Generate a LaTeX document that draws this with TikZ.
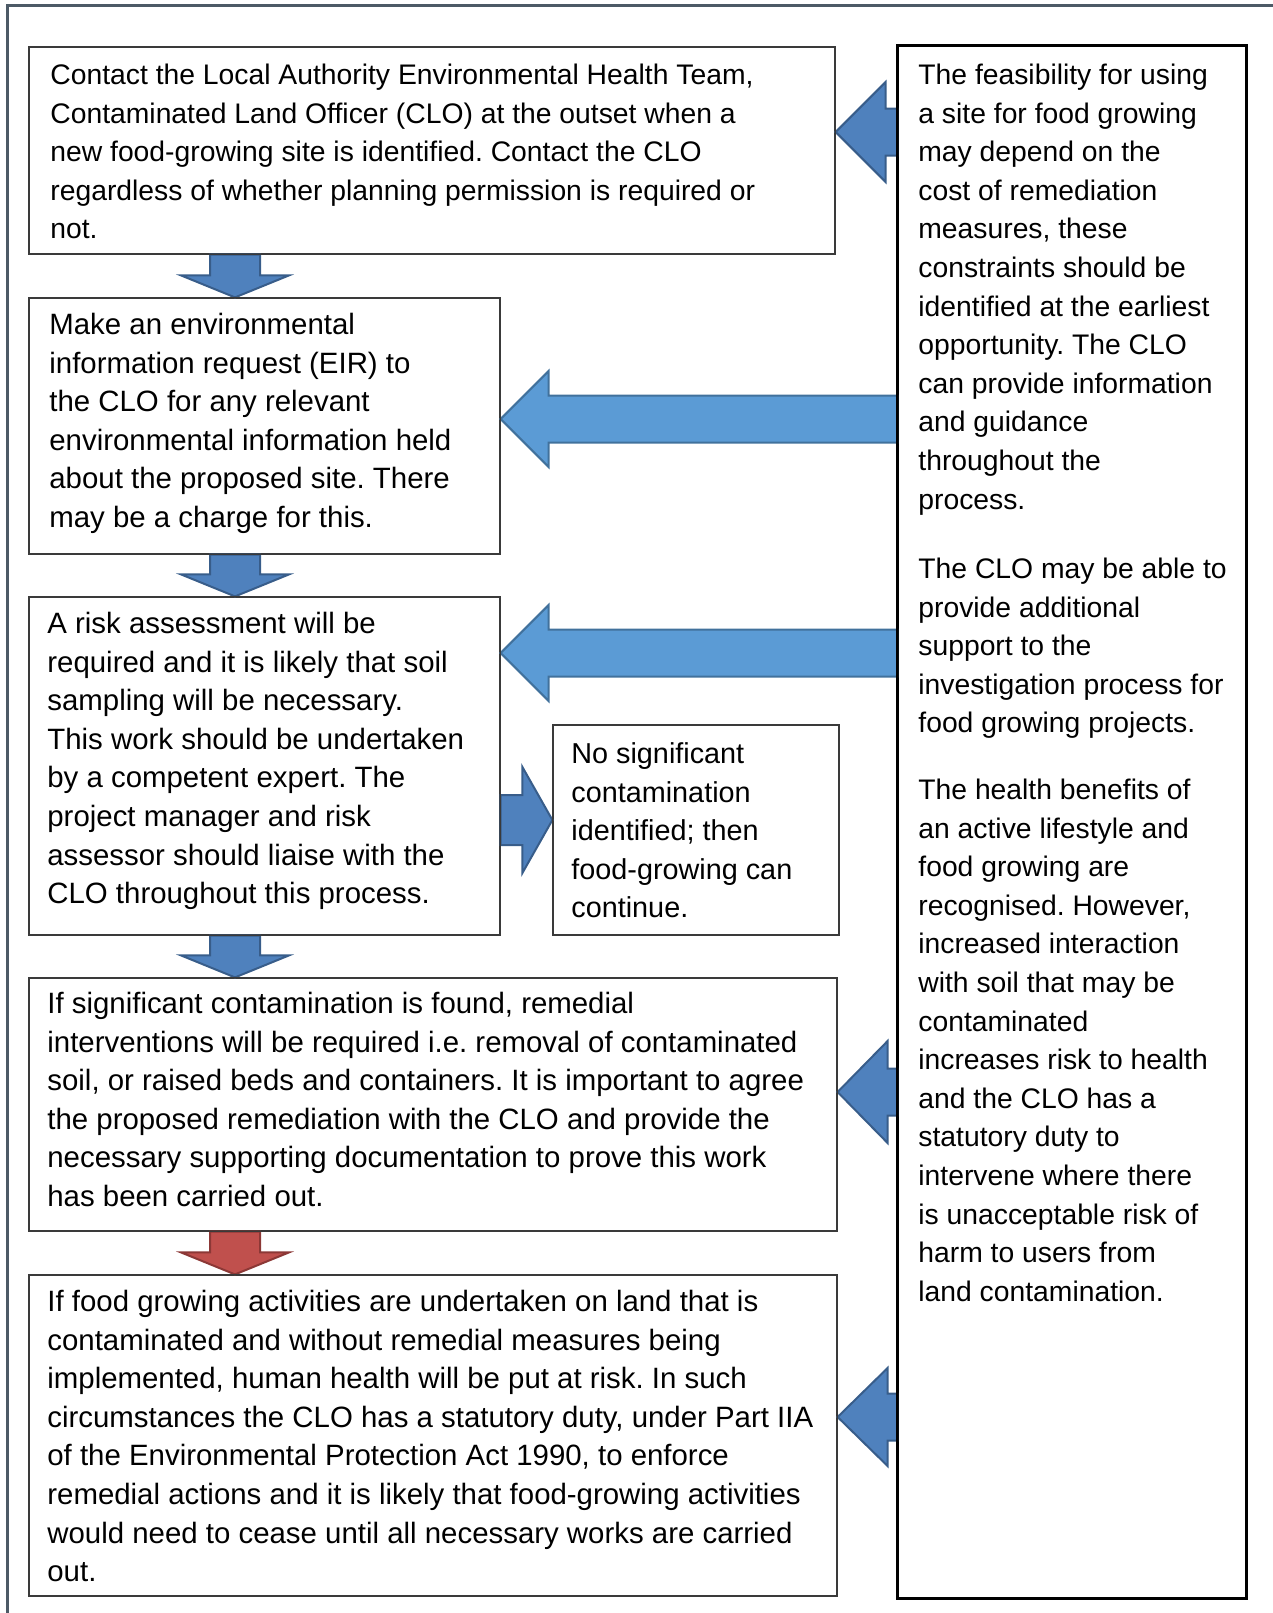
\documentclass[tikz,border=0pt]{standalone}
\usepackage{fontspec}
\setmainfont{Liberation Sans}
\usetikzlibrary{fit,calc}
\frenchspacing
\definecolor{dkfill}{HTML}{4F81BD}
\definecolor{dkline}{HTML}{385D8A}
\definecolor{ltfill}{HTML}{5B9BD5}
\definecolor{ltline}{HTML}{41719C}
\definecolor{rdfill}{HTML}{C0504D}
\definecolor{rdline}{HTML}{8C3836}
\definecolor{framec}{HTML}{4D5A66}
\definecolor{boxc}{HTML}{3A3A3A}
\newcommand\dblock[3]{\filldraw[#1] let \p1=(#2), \p2=(#3) in
  (\x1-12.5pt,\y1) -- (\x1+12.5pt,\y1) -- (\x1+12.5pt,\y2+11pt) -- (\x1+27pt,\y2+11pt)
  -- (\x1,\y2) -- (\x1-27pt,\y2+11pt) -- (\x1-12.5pt,\y2+11pt) -- cycle;}
\newcommand\lblock[6]{\filldraw[#1] let \p1=(#2), \p2=(#3) in
  (\x1,\y2+#4) -- (\x2+#6,\y2+#4) -- (\x2+#6,\y2+#5) -- (\x2,\y2)
  -- (\x2+#6,\y2-#5) -- (\x2+#6,\y2-#4) -- (\x1,\y2-#4) -- cycle;}
\newcommand\rblock[6]{\filldraw[#1] let \p1=(#2), \p2=(#3) in
  (\x1,\y2+#4) -- (\x2-#6,\y2+#4) -- (\x2-#6,\y2+#5) -- (\x2,\y2)
  -- (\x2-#6,\y2-#5) -- (\x2-#6,\y2-#4) -- (\x1,\y2-#4) -- cycle;}
\begin{document}
\begin{tikzpicture}[x=0.5pt,y=-0.5pt,
  box/.style={draw=boxc, line width=0.6pt, inner sep=0pt},
  sidebox/.style={draw=black, line width=0.9pt, inner sep=0pt},
  txt/.style={anchor=north west, inner sep=0pt, align=left, font=\fontsize{14.15pt}{19.3pt}\selectfont},
  txtw/.style={txt, font=\fontsize{14.7pt}{19.3pt}\selectfont},
  txtn/.style={txt, font=\fontsize{14.4pt}{19.3pt}\selectfont},
  darr/.style={fill=dkfill, draw=dkline, line width=1pt, line join=miter},
  larr/.style={fill=ltfill, draw=ltline, line width=1pt, line join=miter},
  rarr/.style={fill=rdfill, draw=rdline, line width=1pt, line join=miter}]
\useasboundingbox (0,0) rectangle (1273,1613);
\draw[framec, line width=1.5pt] (7,1620) -- (7,5) -- (1280,5);

% boxes (positions)
\path node[box, fit={(29,47) (835,254)}] (b1) {};
\path node[box, fit={(29,298) (500,554)}] (b2) {};
\path node[box, fit={(29,597) (500,935)}] (b3) {};
\path node[box, fit={(553,725) (839,935)}] (ns) {};
\path node[box, fit={(29,978) (837,1231)}] (b4) {};
\path node[box, fit={(29,1275) (837,1596)}] (b5) {};
\path node[sidebox, fit={(898,46) (1246,1598)}] (rb) {};

% arrows
\coordinate (ax) at (235,0);
\coordinate (y1) at (0,132);
\coordinate (y2) at (0,419);
\coordinate (y3) at (0,653);
\coordinate (yr) at (0,820);
\coordinate (y4) at (0,1092);
\coordinate (y5) at (0,1417);
\dblock{darr}{ax |- b1.south}{ax |- b2.north}
\dblock{darr}{ax |- b2.south}{ax |- b3.north}
\dblock{darr}{ax |- b3.south}{ax |- b4.north}
\dblock{rarr}{ax |- b4.south}{ax |- b5.north}
\lblock{darr}{rb.west |- y1}{b1.east |- y1}{11.75pt}{25pt}{25pt}
\lblock{larr}{rb.west |- y2}{b2.east |- y2}{11.75pt}{24pt}{24pt}
\lblock{larr}{rb.west |- y3}{b3.east |- y3}{11.75pt}{24pt}{24pt}
\lblock{darr}{rb.west |- y4}{b4.east |- y4}{11.75pt}{25.5pt}{25pt}
\lblock{darr}{rb.west |- y5}{b5.east |- y5}{11.75pt}{24.5pt}{25pt}
\rblock{darr}{b3.east |- yr}{ns.west |- yr}{12.5pt}{26.5pt}{15pt}

% redraw box borders on top
\draw[boxc, line width=0.6pt] (b1.south west) rectangle (b1.north east);
\draw[boxc, line width=0.6pt] (b2.south west) rectangle (b2.north east);
\draw[boxc, line width=0.6pt] (b3.south west) rectangle (b3.north east);
\draw[boxc, line width=0.6pt] (ns.south west) rectangle (ns.north east);
\draw[boxc, line width=0.6pt] (b4.south west) rectangle (b4.north east);
\draw[boxc, line width=0.6pt] (b5.south west) rectangle (b5.north east);
\draw[black, line width=0.9pt] (rb.south west) rectangle (rb.north east);

% texts
\node[txt] (t1) at (50,57) {\strut Contact the Local Authority Environmental Health Team,\\
Contaminated Land Officer (CLO) at the outset when a\\
new food-growing site is identified. Contact the CLO\\
regardless of whether planning permission is required or\\
not.};
\node[txtw] (t2) at (49,307) {\strut Make an environmental\\
information request (EIR) to\\
the CLO for any relevant\\
environmental information held\\
about the proposed site. There\\
may be a charge for this.};
\node[txtw] (t3) at (47,606) {\strut A risk assessment will be\\
required and it is likely that soil\\
sampling will be necessary.\\
This work should be undertaken\\
by a competent expert. The\\
project manager and risk\\
assessor should liaise with the\\
CLO throughout this process.};
\node[txtn] (tns) at (571,736) {\strut No significant\\
contamination\\
identified; then\\
food-growing can\\
continue.};
\node[txtw] (t4) at (47,986) {\strut If significant contamination is found, remedial\\
interventions will be required i.e. removal of contaminated\\
soil, or raised beds and containers. It is important to agree\\
the proposed remediation with the CLO and provide the\\
necessary supporting documentation to prove this work\\
has been carried out.};
\node[txtw] (t5) at (47,1284) {\strut If food growing activities are undertaken on land that is\\
contaminated and without remedial measures being\\
implemented, human health will be put at risk. In such\\
circumstances the CLO has a statutory duty, under Part IIA\\
of the Environmental Protection Act 1990, to enforce\\
remedial actions and it is likely that food-growing activities\\
would need to cease until all necessary works are carried\\
out.};
\node[txt] (r1) at (918,57) {\strut The feasibility for using\\
a site for food growing\\
may depend on the\\
cost of remediation\\
measures, these\\
constraints should be\\
identified at the earliest\\
opportunity. The CLO\\
can provide information\\
and guidance\\
throughout the\\
process.};
\node[txt] (r2) at (918,551) {\strut The CLO may be able to\\
provide additional\\
support to the\\
investigation process for\\
food growing projects.};
\node[txt] (r3) at (918,772) {\strut The health benefits of\\
an active lifestyle and\\
food growing are\\
recognised. However,\\
increased interaction\\
with soil that may be\\
contaminated\\
increases risk to health\\
and the CLO has a\\
statutory duty to\\
intervene where there\\
is unacceptable risk of\\
harm to users from\\
land contamination.};
\end{tikzpicture}
\end{document}
